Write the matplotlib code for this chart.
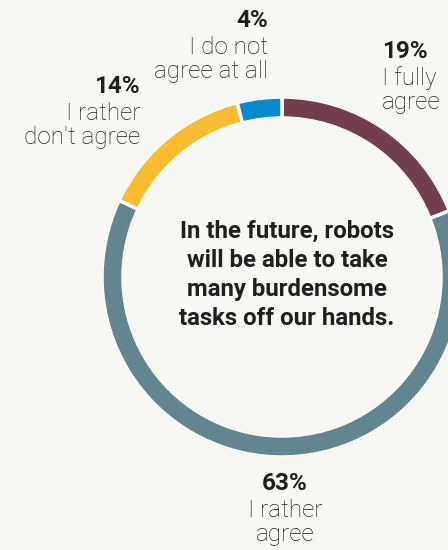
import matplotlib
matplotlib.use('agg')
import matplotlib.pyplot as plt
from matplotlib.patches import Circle

# survey answers, clockwise from the top
answers = [["I fully", "agree"], ["I rather", "agree"],
           ["I rather", "don't agree"], ["I do not", "agree at all"]]
shares = [19, 63, 14, 4]
colours = ["#733f4e", "#62868f", "#fbbb2e", "#0a88cc"]
statement = ["In the future, robots", "will be able to take",
             "many burdensome", "tasks off our hands."]

W, H = 448, 550
bg = "#f7f7f3"
ink = "#1f1f1f"

fig = plt.figure(figsize=(W / 100, H / 100), dpi=100, facecolor=bg)
ax = fig.add_axes([0, 0, 1, 1])
ax.set_facecolor(bg)

# ring geometry in pixels (y measured from the top)
cx, cy, R, ring = 282, H - 277, 180, 21
ax.pie(shares, colors=colours, startangle=90, counterclock=False,
       radius=R, center=(cx, cy),
       wedgeprops=dict(width=ring, edgecolor="white", linewidth=2.5))
# hide the white outline on the rims, keep it only in the gaps
for r in (R + 1.2, R - ring - 1.2):
    ax.add_patch(Circle((cx, cy), r, fill=False, edgecolor=bg, linewidth=2.6))
ax.set_xlim(0, W)
ax.set_ylim(0, H)
ax.set_aspect("equal")
ax.axis("off")

for i, line in enumerate(statement):
    ax.text(287, H - (238 + 29 * i), line, ha="center", va="baseline",
            fontsize=17.3, fontweight="bold", color=ink, family="Roboto")

# label anchors: x, baseline of the percentage, alignment
spots = [(382, 58, "left"), (285, 490, "center"),
         (140, 93, "right"), (268, 27, "right")]
for share, lines, (x, y, ha) in zip(shares, answers, spots):
    ax.text(x, H - y, f"{share}%", ha=ha, va="baseline", fontsize=17.5,
            fontweight="bold", color=ink, family="Roboto")
    for j, line in enumerate(lines):
        ax.text(x, H - (y + 27 + 24 * j), line, ha=ha, va="baseline",
                fontsize=17.5, fontweight="light", color=ink, family="Roboto")

fig.savefig("out.png", dpi=100, facecolor=bg)
